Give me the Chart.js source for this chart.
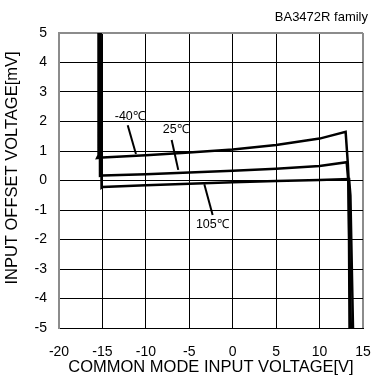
<!DOCTYPE html>
<html>
<head>
<meta charset="utf-8">
<title>BA3472R family - input offset voltage vs common mode input voltage</title>
<script src="https://cdn.jsdelivr.net/npm/chart.js@4/dist/chart.umd.min.js"></script>
<style>
  html, body { margin: 0; padding: 0; background: #fff; }
  #wrap { width: 373px; height: 389px; }
</style>
</head>
<body>
<div id="wrap"><canvas id="chart" width="373" height="389"></canvas></div>
<script>
// ─── Data ───────────────────────────────────────────────────
const xTicks = [-20, -15, -10, -5, 0, 5, 10, 15];
const yTicks = [-5, -4, -3, -2, -1, 0, 1, 2, 3, 4, 5];

// -40°C
const vcmM40 = [-15.45, -15.45, -15.6, -15.3, -15, -10, -5, 0, 5, 10, 13.0, 13.25, 13.35, 13.45];
const vioM40 = [5, 0.85, 0.76, 0.77, 0.78, 0.86, 0.95, 1.05, 1.2, 1.42, 1.65, 0.6, 0, -5];

// 25°C
const vcm25 = [-15.3, -15.28, -15, -10, -5, 0, 5, 10, 13.12, 13.3, 13.6];
const vio25 = [5, 0.16, 0.17, 0.21, 0.27, 0.33, 0.40, 0.49, 0.62, 0, -5];

// 105°C
const vcm105 = [-15.2, -15.1, -15, -10, -5, 0, 5, 10, 13.4, 13.55, 13.85];
const vio105 = [5, -0.24, -0.22, -0.16, -0.11, -0.06, -0.02, 0.02, 0.05, -0.5, -5];

// curve labels: text, label position, leader line (data units)
const labelText = ['-40℃', '25℃', '105℃'];
const labelPos  = [[-11.85, 2.17], [-6.55, 1.72], [-2.35, -1.51]];
const leaderFrom = [[-12.09, 1.87], [-7.03, 1.37], [-3.27, -0.13]];
const leaderTo   = [[-11.14, 0.90], [-6.27, 0.36], [-2.31, -1.17]];

const toPoints = (xs, ys) => xs.map((x, i) => ({ x, y: ys[i] }));

const FONT = "'Liberation Sans', Arial, sans-serif";

// ─── Annotations: note, y title, curve labels, leaders ─────
const annotations = {
  id: 'annotations',
  afterDraw(chart) {
    const { ctx, scales: { x, y } } = chart;
    ctx.save();
    ctx.fillStyle = '#000';
    ctx.strokeStyle = '#000';

    ctx.font = '13px ' + FONT;
    ctx.textAlign = 'right';
    ctx.textBaseline = 'middle';
    ctx.fillText('BA3472R family', 368, 17);

    // y title sits a bit above the plot centre in the reference
    ctx.save();
    ctx.translate(12, 168);
    ctx.rotate(-Math.PI / 2);
    ctx.font = '16.5px ' + FONT;
    ctx.textAlign = 'center';
    ctx.fillText('INPUT OFFSET VOLTAGE[mV]', 0, 0);
    ctx.restore();

    ctx.font = '12.5px ' + FONT;
    ctx.textAlign = 'center';
    ctx.lineWidth = 2;
    labelText.forEach((t, i) => {
      ctx.fillText(t, x.getPixelForValue(labelPos[i][0]), y.getPixelForValue(labelPos[i][1]));
      ctx.beginPath();
      ctx.moveTo(x.getPixelForValue(leaderFrom[i][0]), y.getPixelForValue(leaderFrom[i][1]));
      ctx.lineTo(x.getPixelForValue(leaderTo[i][0]), y.getPixelForValue(leaderTo[i][1]));
      ctx.stroke();
    });
    ctx.restore();
  }
};

const lineSet = (label, data) => ({
  label,
  data,
  showLine: true,
  borderColor: '#000',
  borderWidth: 2.5,
  pointRadius: 0,
  tension: 0,
  fill: false
});

const edgeColor = '#8c8c8c';

new Chart(document.getElementById('chart'), {
  type: 'scatter',
  data: {
    datasets: [
      lineSet('-40℃', toPoints(vcmM40, vioM40)),
      lineSet('25℃', toPoints(vcm25, vio25)),
      lineSet('105℃', toPoints(vcm105, vio105))
    ]
  },
  options: {
    responsive: false,
    animation: false,
    devicePixelRatio: 1,
    layout: { padding: { top: 33, right: 10, left: 0, bottom: 0 } },
    plugins: { legend: { display: false }, tooltip: { enabled: false } },
    scales: {
      x: {
        type: 'linear',
        min: -20, max: 15,
        afterBuildTicks: s => { s.ticks = xTicks.map(v => ({ value: v })); },
        afterFit: s => { s.height = 61; s.paddingLeft = 0; s.paddingRight = 0; },
        grid: {
          drawTicks: false,
          color: c => (c.tick && c.tick.value === 15 ? edgeColor : '#000'),
          lineWidth: c => (c.tick && c.tick.value === 15 ? 2 : 1)
        },
        border: { color: '#000', width: 1 },
        ticks: { color: '#000', padding: 16, font: { family: FONT, size: 14 } },
        title: {
          display: true,
          text: 'COMMON MODE INPUT VOLTAGE[V]',
          color: '#000',
          font: { family: FONT, size: 16.5 },
          padding: { top: 0, bottom: 12 }
        }
      },
      y: {
        type: 'linear',
        min: -5, max: 5,
        afterBuildTicks: s => { s.ticks = yTicks.map(v => ({ value: v })); },
        afterFit: s => { s.width = 59; s.paddingTop = 0; s.paddingBottom = 0; },
        grid: {
          drawTicks: false,
          color: c => (c.tick && c.tick.value === 5 ? edgeColor : '#000'),
          lineWidth: c => (c.tick && c.tick.value === 5 ? 2 : 1)
        },
        border: { color: edgeColor, width: 2 },
        ticks: { color: '#000', padding: 12, font: { family: FONT, size: 14 } }
      }
    }
  },
  plugins: [annotations]
});
</script>
</body>
</html>
